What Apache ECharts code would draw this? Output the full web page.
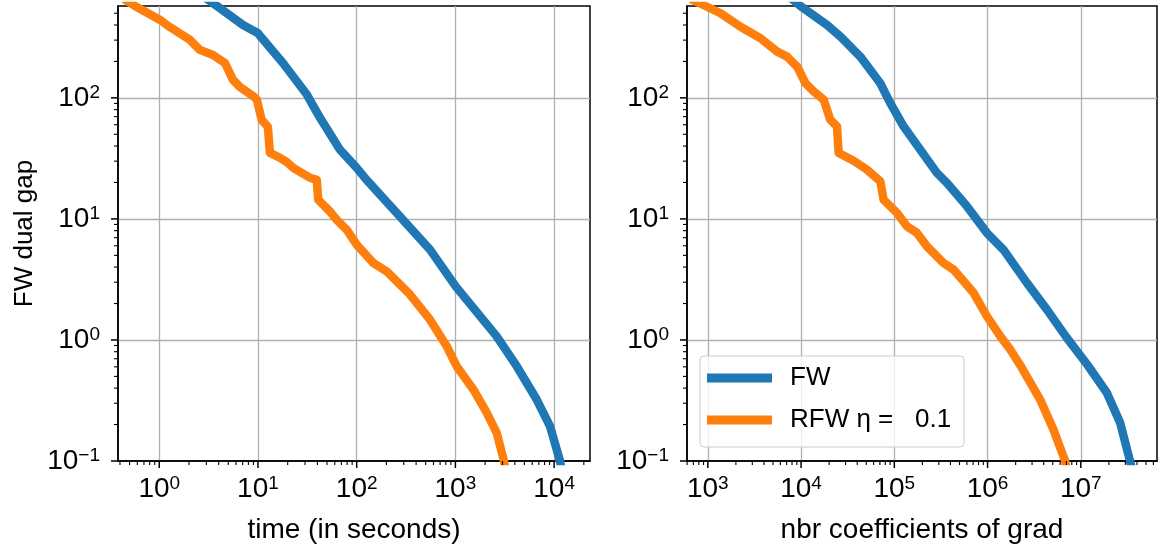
<!DOCTYPE html>
<html><head><meta charset="utf-8">
<script src="https://cdn.jsdelivr.net/npm/echarts@6/dist/echarts.min.js"></script>
<style>html,body{margin:0;padding:0;background:#fff}#c{width:1162px;height:549px}</style>
</head><body><div id="c"></div>
<script>
// ---- data ----
const fwTime = [2.6, 3.84, 7.05, 9.93, 17.9, 31.4, 42.5, 67.7, 100, 126, 254, 553, 1007, 2620, 4180, 6660, 9080, 11480, 12030];
const fwGapTime = [720, 574, 400, 344, 194, 106, 68.4, 37.3, 26.4, 21.0, 11.2, 5.57, 2.77, 1.07, 0.607, 0.322, 0.194, 0.1, 0.0777];

const rfwTime = [0.439, 0.567, 1.02, 1.19, 2.05, 2.58, 3.50, 4.63, 5.58, 6.57, 9.1, 9.77, 10.9, 12.6, 13.2, 16.7, 19.5, 22.8, 27.7, 33.6, 39.4, 40.8, 53.6, 62.7, 79.2, 100, 147, 201, 347, 553, 817, 1030, 1520, 2075, 2620, 3107, 3258];
const rfwGapTime = [656, 574, 440, 400, 301, 249, 226, 194, 141, 123, 102, 96.3, 65.8, 57.7, 35.1, 32.0, 29.6, 26.4, 24.0, 21.9, 21.0, 14.4, 11.5, 9.85, 8.15, 6.12, 4.33, 3.69, 2.37, 1.47, 0.887, 0.607, 0.390, 0.251, 0.171, 0.1, 0.078];

const fwCoef = [7310, 9840, 19000, 26400, 43200, 70700, 90600, 126000, 190000, 287000, 367000, 601000, 984000, 1480000, 2640000, 4330000, 7080000, 11700000, 19000000, 26400000, 33700000, 36300000];
const fwGapCoef = [695, 574, 400, 321, 219, 132, 90.4, 57.9, 37.3, 23.9, 19.8, 12.7, 7.66, 5.57, 2.96, 1.78, 1.04, 0.627, 0.366, 0.207, 0.1, 0.078];

const rfwCoef = [653, 945, 1368, 2240, 3670, 5540, 7090, 9080, 11140, 13680, 17500, 20600, 24300, 25300, 36600, 51000, 70800, 76800, 107000, 137000, 175000, 224000, 337000, 432000, 707000, 984000, 1370000, 1750000, 2330000, 3660000, 5080000, 6790000, 7130000];
const rfwGapCoef = [656, 574, 500, 387, 311, 241, 219, 181, 132, 113, 96.3, 65.8, 57.9, 35.0, 30.2, 25.5, 20.4, 14.4, 11.2, 8.67, 7.66, 5.93, 4.33, 3.81, 2.45, 1.57, 1.07, 0.834, 0.589, 0.322, 0.182, 0.1, 0.078];

const seriesNames = ['FW', 'RFW η =   0.1'];
const xNames = ['time (in seconds)', 'nbr coefficients of grad'];
const yName = 'FW dual gap';

// tick labels (exponents of 10)
const xLeftTickExp = [0, 1, 2, 3, 4];
const xRightTickExp = [3, 4, 5, 6, 7];
const yTickExp = [-1, 0, 1, 2];

// axis ranges
const xLeftRange = [0.382, 23100];
const xRightRange = [598, 65600000];
const yRange = [0.1, 574];

// ---- helpers ----
const C_BLUE = '#1f77b4', C_ORANGE = '#ff7f0e';
const FONT = 'Liberation Sans';
const pairs = (xs, ys) => xs.map((x, i) => [x, ys[i]]);

function ticksFor(exps, range) {
  const out = [];
  const lo = Math.floor(Math.log10(range[0])), hi = Math.ceil(Math.log10(range[1]));
  for (let k = lo; k <= hi; k++) {
    const base = Math.pow(10, k);
    if (exps.indexOf(k) >= 0) out.push({v: base, major: 1});
    for (let m = 2; m <= 9; m++) {
      const v = m * base;
      if (v >= range[0] * 0.9999 && v <= range[1] * 1.0001) out.push({v: v, major: 0});
    }
  }
  return out;
}

function expLabel(exps) {
  return function (val) {
    const e = Math.log10(val);
    const r = Math.round(e);
    if (Math.abs(e - r) > 1e-6 || exps.indexOf(r) < 0) return '';
    return '{b|10}{s|' + (r < 0 ? '\u2212' + (-r) : r) + '}';
  };
}
const labelRich = {
  b: {fontSize: 28, fontFamily: FONT, color: '#000', lineHeight: 30},
  s: {fontSize: 19, fontFamily: FONT, color: '#000', verticalAlign: 'top', lineHeight: 19}
};

function xAxisDef(gi, range, exps, name) {
  return {
    type: 'log', logBase: 10, gridIndex: gi, min: range[0], max: range[1],
    axisLine: {show: true, lineStyle: {color: '#000', width: 1.5}},
    axisTick: {show: false},
    splitLine: {show: true, showMinLine: false, showMaxLine: false, lineStyle: {color: '#b0b0b0', width: 1.3}},
    axisLabel: {formatter: expLabel(exps), rich: labelRich, margin: 13, color: '#000'},
    name: name, nameLocation: 'middle', nameGap: 55,
    nameTextStyle: {fontSize: 28, fontFamily: FONT, color: '#000'}
  };
}
function yAxisDef(gi, withName) {
  return {
    type: 'log', logBase: 10, gridIndex: gi, min: yRange[0], max: yRange[1],
    axisLine: {show: true, lineStyle: {color: '#000', width: 1.5}},
    axisTick: {show: false},
    splitLine: {show: true, showMinLine: false, showMaxLine: false, lineStyle: {color: '#b0b0b0', width: 1.3}},
    axisLabel: {formatter: expLabel(yTickExp), rich: labelRich, margin: 18, color: '#000'},
    name: withName ? yName : '', nameLocation: 'middle', nameGap: 80,
    nameTextStyle: {fontSize: 26, fontFamily: FONT, color: '#000'}
  };
}

function tickSeries(gi, axis, ticks, edge) {
  return {
    type: 'custom', xAxisIndex: gi, yAxisIndex: gi, clip: false, silent: true, z: 5,
    data: ticks.map(t => axis === 'x' ? [t.v, edge, t.major] : [edge, t.v, t.major]),
    encode: {x: 0, y: 1},
    renderItem: function (params, api) {
      const p = api.coord([api.value(0), api.value(1)]);
      const major = api.value(2) === 1;
      const len = major ? 7 : 4;
      const shape = axis === 'x'
        ? {x1: p[0], y1: p[1], x2: p[0], y2: p[1] + len}
        : {x1: p[0], y1: p[1], x2: p[0] - len, y2: p[1]};
      return {type: 'line', shape: shape, style: {stroke: '#000', lineWidth: major ? 1.5 : 1.1}};
    }
  };
}

function lineSeries(name, color, gi, xs, ys) {
  return {
    type: 'line', name: name, xAxisIndex: gi, yAxisIndex: gi,
    data: pairs(xs, ys), showSymbol: false, symbol: 'none', clip: true,
    lineStyle: {color: color, width: 8.5, join: 'round', cap: 'butt'},
    itemStyle: {color: color}, z: 3
  };
}

const chart = echarts.init(document.getElementById('c'), null, {renderer: 'canvas'});
chart.setOption({
  animation: false,
  backgroundColor: '#fff',
  textStyle: {fontFamily: FONT},
  grid: [
    {left: 118, top: 6, width: 472, height: 456, show: true, borderColor: '#000', borderWidth: 1.5, backgroundColor: 'transparent'},
    {left: 687, top: 6, width: 470, height: 456, show: true, borderColor: '#000', borderWidth: 1.5, backgroundColor: 'transparent'}
  ],
  xAxis: [xAxisDef(0, xLeftRange, xLeftTickExp, xNames[0]), xAxisDef(1, xRightRange, xRightTickExp, xNames[1])],
  yAxis: [yAxisDef(0, true), yAxisDef(1, false)],
  legend: {
    data: seriesNames, orient: 'vertical', left: 700, top: 356,
    icon: 'rect', itemWidth: 65, itemHeight: 9, itemGap: 12,
    padding: [7, 13, 12, 7],
    backgroundColor: 'rgba(255,255,255,0.8)', borderColor: '#cccccc', borderWidth: 1, borderRadius: 4,
    textStyle: {fontSize: 26, fontFamily: FONT, color: '#000', lineHeight: 30, padding: [0, 0, 0, 13]},
    selectedMode: false
  },
  series: [
    lineSeries(seriesNames[0], C_BLUE, 0, fwTime, fwGapTime),
    lineSeries(seriesNames[1], C_ORANGE, 0, rfwTime, rfwGapTime),
    lineSeries(seriesNames[0], C_BLUE, 1, fwCoef, fwGapCoef),
    lineSeries(seriesNames[1], C_ORANGE, 1, rfwCoef, rfwGapCoef),
    tickSeries(0, 'x', ticksFor(xLeftTickExp, xLeftRange), yRange[0]),
    tickSeries(0, 'y', ticksFor(yTickExp, yRange), xLeftRange[0]),
    tickSeries(1, 'x', ticksFor(xRightTickExp, xRightRange), yRange[0]),
    tickSeries(1, 'y', ticksFor(yTickExp, yRange), xRightRange[0])
  ]
});
</script>
</body></html>
